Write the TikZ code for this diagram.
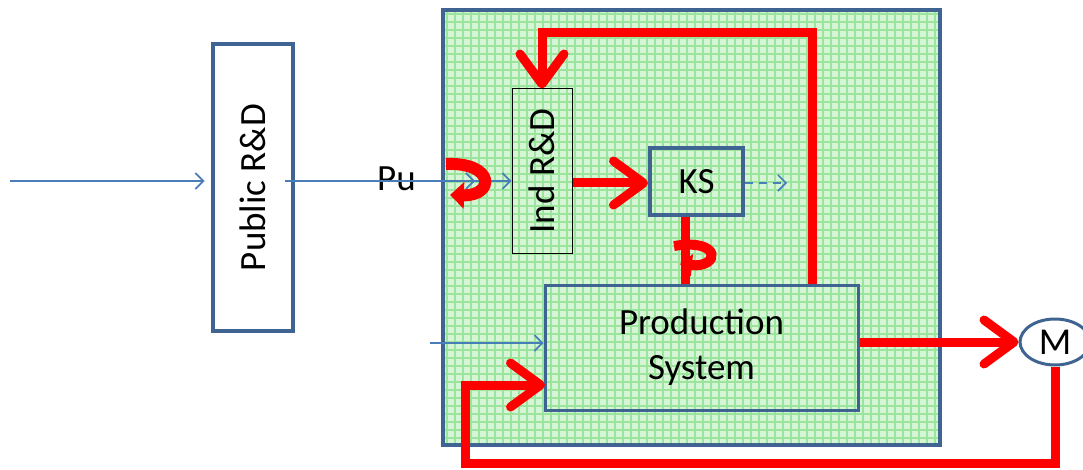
\documentclass[tikz,border=0pt]{standalone}
\usepackage{fontspec}
\setmainfont{Carlito}
\usetikzlibrary{arrows.meta,shapes.geometric}
\definecolor{bord}{HTML}{3F6491}
\definecolor{thinb}{HTML}{4A7EBB}
\definecolor{gfill}{HTML}{D6F5D6}
\definecolor{ggrid}{HTML}{9BE49B}
\definecolor{rd}{HTML}{FF0000}
\tikzset{
  box/.style={draw=bord, line width=4pt, inner sep=0pt, font=\fontsize{37}{44}\selectfont},
  thin/.style={draw=thinb, line width=1.6pt, -{Straight Barb[length=8pt,width=16pt,line width=1.6pt]}},
  redl/.style={draw=rd, line width=9pt},
  redarr/.style={redl, -{Straight Barb[length=30pt,width=44pt,round]}},
  txt/.style={font=\fontsize{37}{44}\selectfont, inner sep=0pt},
}
\begin{document}
\begin{tikzpicture}[x=1pt,y=-1pt]
\useasboundingbox (0,0) rectangle (1083,470);
% big green panel
\node[draw=bord, line width=4pt, fill=gfill, minimum width=497, minimum height=435, inner sep=0pt] (panel) at (691.5,227.5) {};
\begin{scope}
\clip (445,12) rectangle (938,443);
\foreach \gx in {447,455,...,940} \draw[ggrid, line width=1.1pt] (\gx,12) -- (\gx,443);
\foreach \gy in {14,22,...,445} \draw[ggrid, line width=1.1pt] (445,\gy) -- (938,\gy);
\end{scope}
\node[draw=bord, line width=4pt, fill=none, minimum width=497, minimum height=435, inner sep=0pt] at (691.5,227.5) {};

% boxes
\node[box, minimum width=80, minimum height=287] (pub) at (252.5,187.5) {\rotatebox{90}{Public R\&D}};
\node[draw=black, line width=1pt, inner sep=0pt, minimum width=60, minimum height=164, font=\fontsize{37}{44}\selectfont] (ind) at (542,171) {\rotatebox{90}{Ind R\&D}};
\node[box, minimum width=93, minimum height=67] (ks) at (696.5,181.5) {KS};
\node[box, line width=3pt, minimum width=313, minimum height=125, align=center] (prod) at (701.5,347.5) {\raisebox{-2pt}{Production}\\[3pt]System};
\node[draw=bord, line width=3pt, ellipse, minimum width=70, minimum height=46, inner sep=0pt, font=\fontsize{38}{44}\selectfont] (M) at (1055,342) {M};
\node[txt, anchor=base west] (pu) at (377,191) {Pu};

% thin blue arrows
\coordinate (in1) at (10,181);
\coordinate (pa) at (475,181);
\coordinate (pb) at (443,181);
\coordinate (in2) at (430,343);
\coordinate (kso) at (787,183);
\draw[thin, shorten >=6pt] (in1) -- (pub.west |- in1);
\draw[thin] (pub.east |- in1) ++(-10,0) -- (pa);
\draw[thin] (pb) -- (ind.west |- pb);
\draw[thin] (in2) -- (prod.west |- in2);
\draw[thin, dash pattern=on 8pt off 6pt] (ks.east |- kso) -- (kso);

% red connectors
\draw[redarr] (ind.east |- 0,183) -- (ks.west |- 0,183);
\coordinate (t1) at (812,33);
\draw[redarr] (prod.north -| t1) -- (t1) -| (ind.north);
\draw[redarr] (prod.east |- M.west) -- (M.west);
\coordinate (b1) at (465,463);
\coordinate (pin) at (545,385);
\draw[redarr] (M.south) |- (b1) |- (pin);
\coordinate (kx) at (685,0);
\draw[redl] (ks.south -| kx) -- (prod.north -| kx);

% curls
\coordinate (c1) at (446,164);
\coordinate (c2) at (450,195);
\draw[draw=rd, line width=12pt, -{Triangle[length=14pt,width=26pt]}] (c1) .. controls (495,162) and (495,196) .. (c2);
\coordinate (c3) at (674,246);
\coordinate (c4) at (680,264);
\draw[draw=rd, line width=10pt, -{Triangle[length=12pt,width=22pt]}] (c3) .. controls (722,238) and (720,268) .. (c4);
\end{tikzpicture}
\end{document}
